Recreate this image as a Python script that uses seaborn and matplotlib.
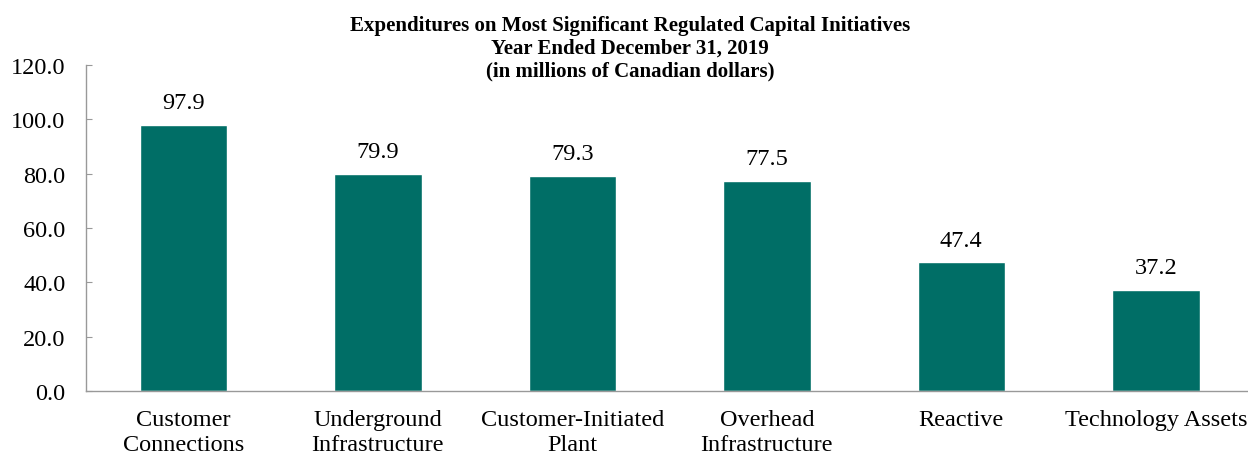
import matplotlib
matplotlib.use("Agg")
import matplotlib.pyplot as plt
import seaborn as sns
import pandas as pd

categories = ["Customer\nConnections", "Underground\nInfrastructure", "Customer-Initiated\nPlant",
              "Overhead\nInfrastructure", "Reactive", "Technology Assets"]
values = [97.9, 79.9, 79.3, 77.5, 47.4, 37.2]
y_ticks = [0, 20, 40, 60, 80, 100, 120]

df = pd.DataFrame({"category": categories, "value": values})

sns.set_style("white")
plt.rcParams["font.family"] = ["Liberation Serif", "DejaVu Serif"]
plt.rcParams["text.color"] = "black"
plt.rcParams["xtick.color"] = "black"
plt.rcParams["ytick.color"] = "black"

fig = plt.figure(figsize=(12.48, 4.56), dpi=100)
ax = fig.add_axes([0.069, 0.140, 0.935, 0.715])

sns.barplot(data=df, x="category", y="value", color="#006e66", saturation=1,
            width=0.45, ax=ax)

for p, v in zip(ax.patches, values):
    ax.text(p.get_x() + p.get_width() / 2, v + 4.3, f"{v:.1f}",
            ha="center", va="bottom", fontsize=17.5)

ax.set_ylim(0, 120)
ax.set_yticks(y_ticks)
ax.set_yticklabels([f"{t:.1f}" for t in y_ticks], fontsize=17.5)
ax.tick_params(axis="y", left=True, length=4.5, width=0.8, color="#999999",
               labelcolor="black", direction="in", pad=15)
ax.tick_params(axis="x", bottom=False, labelsize=17.5, labelcolor="black", pad=9)
for lbl in ax.get_xticklabels():
    lbl.set_linespacing(1.25)
ax.set_xlabel("")
ax.set_ylabel("")
for s in ["top", "right"]:
    ax.spines[s].set_visible(False)
for s in ["left", "bottom"]:
    ax.spines[s].set_color("#999999")
    ax.spines[s].set_linewidth(1.0)

fig.text(0.505, 0.966, "Expenditures on Most Significant Regulated Capital Initiatives\n"
         "Year Ended December 31, 2019\n(in millions of Canadian dollars)",
         ha="center", va="top", fontsize=15, fontweight="bold", linespacing=1.2)

fig.savefig("out.png", dpi=100)
